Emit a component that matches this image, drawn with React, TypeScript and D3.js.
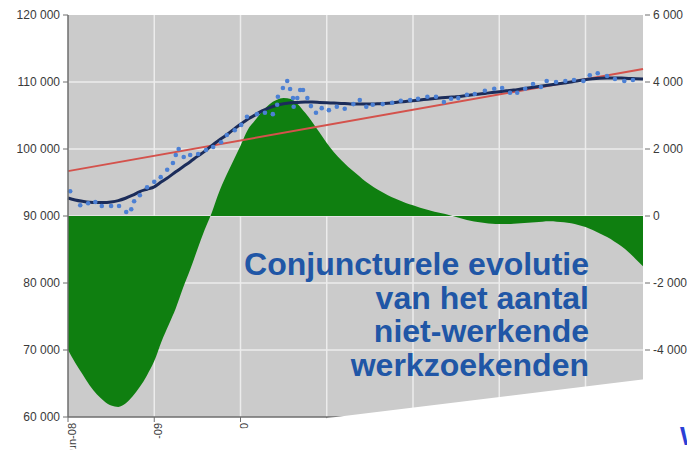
import * as d3 from "d3";

// x = maanden sinds juni 2008
const xTickLabels = ["jun-08", "jun-09", "jun-10", "jun-11", "jun-12", "jun-13", "jun-14"];
const xTickMonths = [0, 12, 24, 36, 48, 60, 72];

const leftTicks = [60000, 70000, 80000, 90000, 100000, 110000, 120000];
const rightTicks = [-6000, -4000, -2000, 0, 2000, 4000, 6000];

// ruwe maandcijfers (punten): [maand, waarde]
const rawMonths = [
  0.3, 1.7, 2.8, 3.8, 4.7, 6.0, 7.1, 8.1, 8.8, 9.2, 10.0, 11.0, 12.0, 12.9, 13.8, 14.6,
  15.0, 15.4, 16.1, 17.0, 18.1, 19.2, 20.2, 21.3, 22.1, 23.2, 24.1, 24.9, 26.3, 27.4,
  28.5, 29.1, 29.2, 29.9, 30.5, 30.9, 31.3, 31.4, 31.9, 32.3, 32.7, 33.3, 33.8, 34.5,
  35.3, 36.3, 37.4, 38.5, 39.7, 40.6, 41.5, 42.4, 43.8, 45.1, 46.3, 47.6, 48.7, 50.0,
  51.2, 52.3, 53.3, 54.3, 55.5, 56.6, 58.0, 59.3, 60.4, 61.5, 62.5, 63.6, 64.7, 65.8,
  66.6, 67.9, 69.2, 70.4, 71.7, 72.6, 73.7, 75.0, 76.1, 77.4, 78.6,
];
const rawValues = [
  93700, 91600, 91900, 92100, 91500, 91500, 91500, 90600, 91000, 92200, 93100, 94300, 95100, 95800, 96900, 97900,
  99100, 100000, 98800, 99100, 99250, 99850, 100300, 101000, 102100, 102800, 103600, 104800, 105200, 105400,
  105200, 106600, 107800, 109100, 110150, 108950, 107600, 106300, 107600, 108800, 108800, 107600, 106400, 105400,
  106100, 105800, 106300, 106000, 106700, 107300, 106300, 106600, 106700, 106900, 107200, 107300, 107500, 107800,
  107800, 107000, 107500, 107600, 108100, 108200, 108700, 109000, 109100, 108400, 108400, 109000, 109700, 109250,
  110150, 110000, 110150, 110300, 110150, 111000, 111300, 110900, 110450, 110150, 110300,
];

// trend-cyclus (maandelijks, m0..m80)
const trendCycle = [
  92690, 92400, 92200, 92050, 92000, 92000, 92100, 92300, 92650, 93100, 93650, 94000, 94350, 95100, 95800, 96600,
  97350, 98100, 98900, 99650, 100500, 101300, 102050, 102900, 103700, 104450, 105050, 105700, 106150, 106500,
  106750, 106900, 106950, 107000, 107000, 106950, 106900, 106850, 106800, 106750, 106700, 106700, 106700, 106750,
  106800, 106880, 107000, 107100, 107200, 107320, 107440, 107550, 107640, 107720, 107790, 107900, 108050, 108180,
  108300, 108420, 108550, 108680, 108800, 108950, 109100, 109250, 109400, 109550, 109700, 109850, 110000, 110200,
  110350, 110480, 110560, 110600, 110600, 110580, 110540, 110490, 110450,
];

// lineaire trend
const linearMonths = [0, 80];
const linearValues = [96700, 111950];

// conjuncturele component (rechteras)
const cycle = [
  -4000, -4380, -4720, -5050, -5320, -5520, -5660, -5700, -5600, -5380, -5100, -4750, -4330, -3750, -3250, -2750,
  -2150, -1600, -1000, -420, 100, 700, 1200, 1650, 2100, 2570, 2850, 3120, 3330, 3460,
  3520, 3490, 3330, 3080, 2800, 2490, 2180, 1900, 1670, 1460, 1280, 1100, 940, 800,
  680, 570, 480, 390, 320, 250, 190, 130, 80, 30, -30, -90, -140, -180,
  -210, -230, -240, -240, -230, -215, -200, -185, -170, -160, -170, -190, -220, -270,
  -330, -420, -520, -630, -760, -900, -1080, -1290, -1500,
];

const titleLines = ["Conjuncturele evolutie", "van het aantal", "niet-werkende", "werkzoekenden"];

const W = 687;
const H = 453;
const left = 68;
const right = 643;
const top = 15;
const bottom = 417;
const font = "'Liberation Sans', Arial, sans-serif";

const fmt = d3
  .formatLocale({ decimal: ",", thousands: " ", grouping: [3], currency: ["", ""], minus: "-" })
  .format(",");

export default function App() {
  const x = d3.scaleLinear().domain([0, 80]).range([left, right]);
  const yL = d3.scaleLinear().domain([60000, 120000]).range([bottom, top]);
  const yR = d3.scaleLinear().domain([-6000, 6000]).range([bottom, top]);

  const area = d3
    .area<number>()
    .x((_, i) => x(i))
    .y0(yR(0))
    .y1((d) => yR(d))
    .curve(d3.curveMonotoneX);

  const line = d3
    .line<number>()
    .x((_, i) => x(i))
    .y((d) => yL(d))
    .curve(d3.curveMonotoneX);

  const linear = d3
    .line<number>()
    .x((_, i) => x(linearMonths[i]))
    .y((d) => yL(d));

  return (
    <div style={{ position: "absolute", left: 0, top: 0 }}>
      <svg width={W} height={H} style={{ display: "block", background: "#fff" }}>
        <rect x={left} y={top} width={right - left} height={bottom - top} fill="#cbcbcb" />
        {leftTicks.slice(1, -1).map((t) => (
          <line key={"h" + t} x1={left} x2={right} y1={yL(t)} y2={yL(t)} stroke="#ececec" strokeWidth={1.5} />
        ))}
        {xTickMonths.slice(1).map((m) => (
          <line key={"v" + m} x1={x(m)} x2={x(m)} y1={top} y2={bottom} stroke="#ececec" strokeWidth={1.5} />
        ))}
        <path d={area(cycle) ?? ""} fill="#0f7f10" />
        <path d={linear(linearValues) ?? ""} fill="none" stroke="#d4524c" strokeWidth={2} />
        <path d={line(trendCycle) ?? ""} fill="none" stroke="#1b2c5a" strokeWidth={3} />
        {rawMonths.map((m, i) => (
          <circle key={"p" + i} cx={x(m)} cy={yL(rawValues[i])} r={2.3} fill="#4c80d4" />
        ))}

        {/* assen */}
        <line x1={left} x2={left} y1={top} y2={bottom} stroke="#6e6e6e" strokeWidth={1.5} />
        <line x1={left} x2={right} y1={bottom} y2={bottom} stroke="#6e6e6e" strokeWidth={1.5} />
        {leftTicks.map((t) => (
          <g key={"lt" + t}>
            <line x1={left - 5} x2={left} y1={yL(t)} y2={yL(t)} stroke="#6e6e6e" />
            <text x={left - 8} y={yL(t)} dy="0.35em" textAnchor="end" fontSize={12} fill="#3a3a3a" fontFamily={font}>
              {fmt(t)}
            </text>
          </g>
        ))}
        {rightTicks.map((t) => (
          <g key={"rt" + t}>
            <line x1={right + 2} x2={right + 7} y1={yR(t)} y2={yR(t)} stroke="#6e6e6e" />
            <text x={right + 10} y={yR(t)} dy="0.35em" textAnchor="start" fontSize={12} fill="#3a3a3a" fontFamily={font}>
              {fmt(t)}
            </text>
          </g>
        ))}
        {xTickMonths.map((m, i) => (
          <g key={"xt" + m}>
            <line x1={x(m)} x2={x(m)} y1={bottom} y2={bottom + 5} stroke="#6e6e6e" />
            <text
              transform={`translate(${x(m) + 4},${bottom + 6}) rotate(-90)`}
              dy="0.35em"
              textAnchor="end"
              fontSize={11}
              fill="#3a3a3a"
              fontFamily={font}
            >
              {xTickLabels[i]}
            </text>
          </g>
        ))}

        {/* afgescheurde onderrand */}
        <polygon points={`0,458 ${W},374 ${W},${H + 5} 0,${H + 5}`} fill="#fff" />

        {titleLines.map((t, i) => (
          <text
            key={t}
            x={589}
            y={275 + i * 33.5}
            textAnchor="end"
            fontSize={32}
            fontWeight="bold"
            fill="#2056a6"
            fontFamily={font}
          >
            {t}
          </text>
        ))}
        <text x={680} y={445} fontSize={26} fontWeight="bold" fill="#2b3fd6" fontFamily={font}>
          W
        </text>
      </svg>
    </div>
  );
}
